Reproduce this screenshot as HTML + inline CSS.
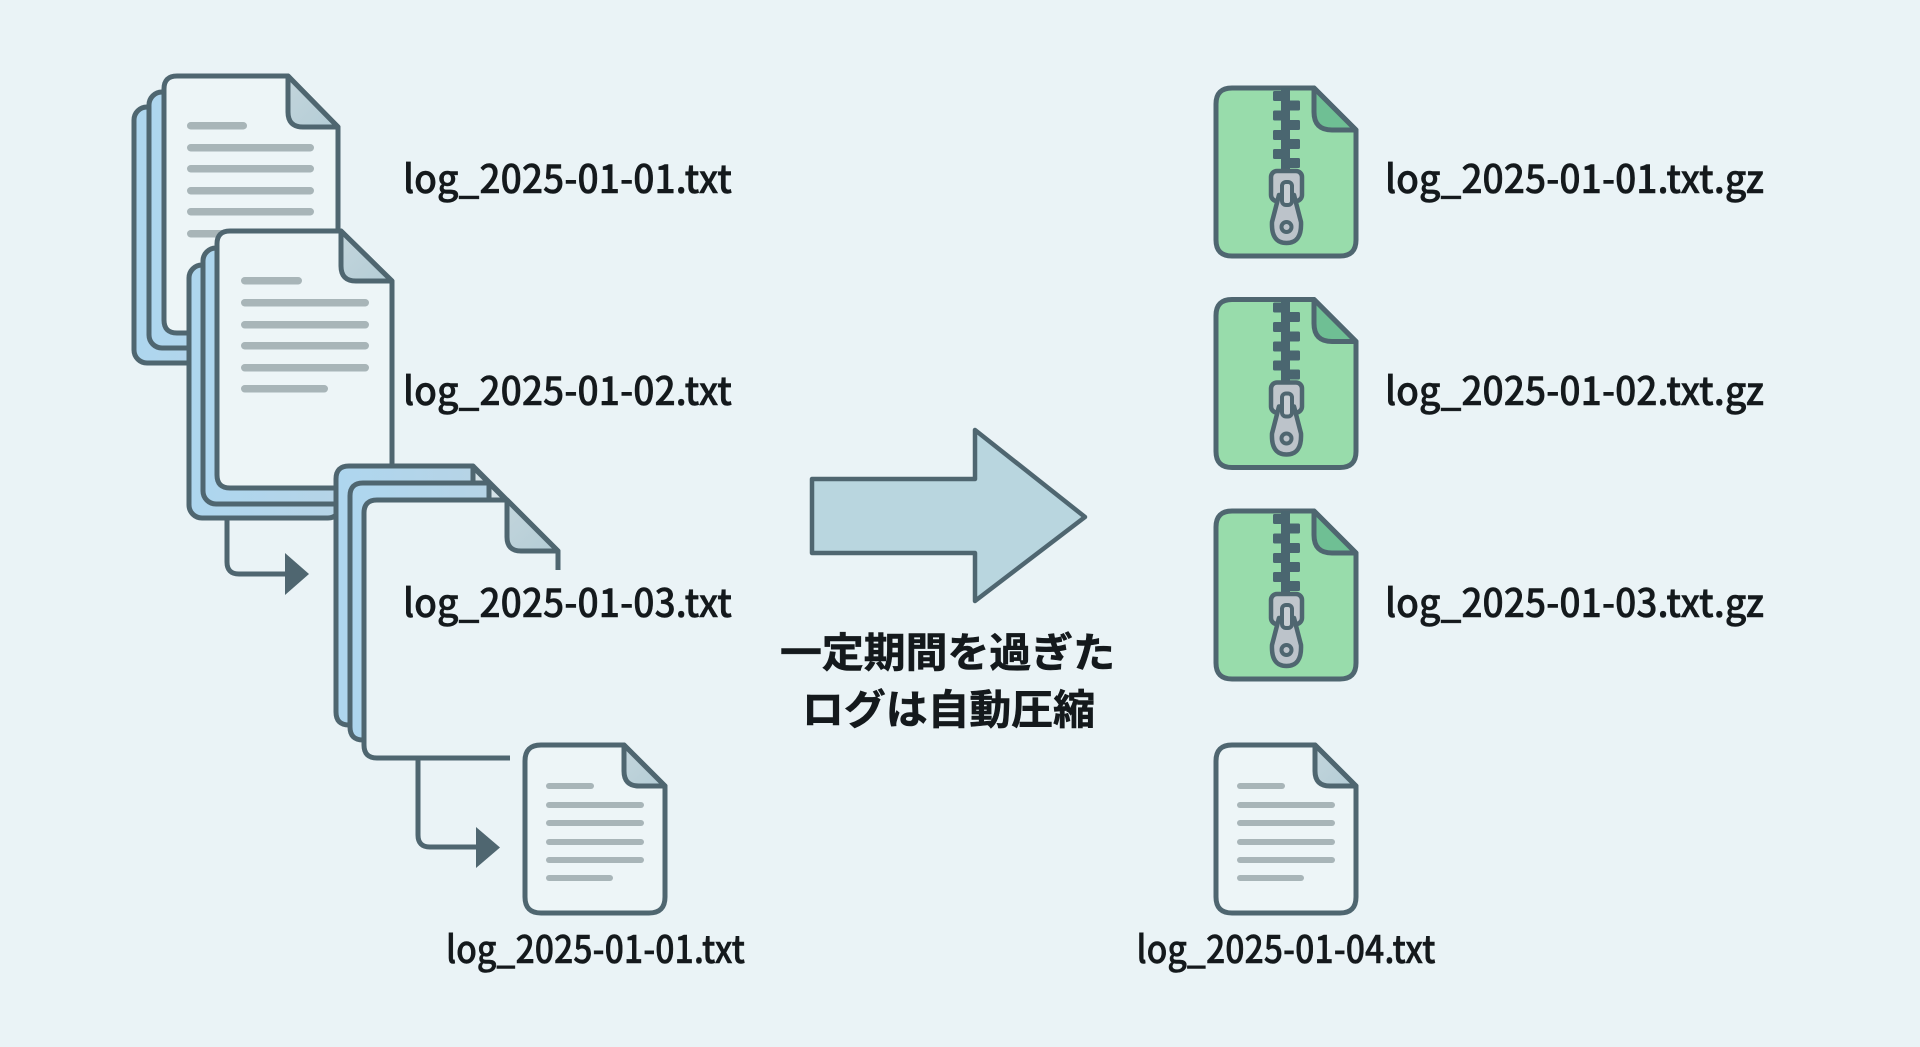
<!DOCTYPE html>
<html lang="ja"><head><meta charset="utf-8"><title>ログ自動圧縮</title>
<style>
html,body{margin:0;padding:0;background:#eaf3f6;width:1920px;height:1047px;overflow:hidden}
svg{display:block}
.lb{font-family:"Noto Sans CJK JP","Liberation Sans",sans-serif;font-weight:500;fill:#14191c;stroke:#14191c;stroke-width:.5}
.jp{font-family:"Liberation Sans","Noto Sans CJK JP",sans-serif;font-weight:700;fill:#14191c;stroke:#14191c;stroke-width:.6;font-size:41px}
</style></head><body>
<svg width="1920" height="1047" viewBox="0 0 1920 1047" xmlns="http://www.w3.org/2000/svg">
<defs>
<linearGradient id="blue" x1="0" y1="0" x2="1" y2="0"><stop offset="0" stop-color="#aed6ef"/><stop offset="1" stop-color="#b6d4e6"/></linearGradient>
<linearGradient id="fold" x1="0" y1="0" x2="1" y2="1"><stop offset="0" stop-color="#c3d5dc"/><stop offset="1" stop-color="#b4cdd6"/></linearGradient>
<g id="zip">
<path d="M1216 104Q1216 88 1232 88H1314L1356 130V240Q1356 256 1340 256H1232Q1216 256 1216 240Z" fill="#98dcab" stroke="#4f6670" stroke-width="5" stroke-linejoin="round"/>
<path d="M1314 88V112Q1314 130 1332 130H1356Z" fill="#6fbf94" stroke="#4f6670" stroke-width="5" stroke-linejoin="round"/>
<rect x="1281" y="88" width="9" height="84" fill="#4a6670"/>
<g fill="#4a6670">
<rect x="1273" y="91" width="15" height="10" rx="1.5"/><rect x="1273" y="110.500" width="15" height="10" rx="1.5"/><rect x="1273" y="130" width="15" height="10" rx="1.5"/><rect x="1273" y="149" width="15" height="10" rx="1.5"/>
<rect x="1285" y="100.500" width="15" height="10" rx="1.5"/><rect x="1285" y="120" width="15" height="10" rx="1.5"/><rect x="1285" y="139" width="15" height="10" rx="1.5"/><rect x="1285" y="158" width="15" height="10" rx="1.5"/>
</g>
<rect x="1271" y="171" width="31" height="30" rx="6" fill="#c0c6cc" stroke="#4f6670" stroke-width="4.500"/>
<path d="M1279 195L1272 222Q1271 243 1286.500 243Q1302 243 1301 222L1294 195Z" fill="#bcc3ca" stroke="#4f6670" stroke-width="4.500" stroke-linejoin="round"/>
<rect x="1282" y="182" width="10" height="23" rx="4" fill="#c8ced3" stroke="#4f6670" stroke-width="4"/>
<circle cx="1286.500" cy="227" r="5" fill="#bcc3ca" stroke="#4f6670" stroke-width="4"/>
</g>
<g id="small">
<path d="M541 745H624L665 786V897Q665 913 649 913H541Q525 913 525 897V761Q525 745 541 745Z" fill="#edf5f7" stroke="#4f6670" stroke-width="5" stroke-linejoin="round"/>
<path d="M624 745V771Q624 786 639 786H665Z" fill="url(#fold)" stroke="#4f6670" stroke-width="5" stroke-linejoin="round"/>
<g fill="#a8b5b8">
<rect x="546" y="783" width="48" height="6" rx="3"/><rect x="546" y="802" width="98" height="6" rx="3"/><rect x="546" y="820" width="98" height="6" rx="3"/><rect x="546" y="839" width="98" height="6" rx="3"/><rect x="546" y="857" width="98" height="6" rx="3"/><rect x="546" y="875" width="67" height="6" rx="3"/>
</g>
</g>
</defs>
<rect width="1920" height="1047" fill="#eaf3f6"/>

<!-- stack 1 -->
<g stroke="#4f6670" stroke-width="5" stroke-linejoin="round">
<rect x="134" y="107" width="130" height="256" rx="13" fill="url(#blue)"/>
<rect x="149" y="92" width="130" height="256" rx="13" fill="url(#blue)"/>
<path d="M177 76H288L338 127V320Q338 333 325 333H177Q164 333 164 320V89Q164 76 177 76Z" fill="#edf5f7"/>
<path d="M288 76V112Q288 127 303 127H338Z" fill="url(#fold)"/>
</g>
<g fill="#a8b5b8">
<rect x="187" y="122" width="60" height="7.500" rx="3.700"/><rect x="187" y="144" width="127" height="7.500" rx="3.700"/><rect x="187" y="165" width="127" height="7.500" rx="3.700"/><rect x="187" y="187" width="127" height="7.500" rx="3.700"/><rect x="187" y="208" width="127" height="7.500" rx="3.700"/><rect x="187" y="230" width="60" height="7.500" rx="3.700"/>
</g>

<!-- stack 2 -->
<g stroke="#4f6670" stroke-width="5" stroke-linejoin="round">
<path d="M227 518V562Q227 574 239 574H290" fill="none"/>
<rect x="189" y="265" width="152" height="253" rx="13" fill="url(#blue)"/>
<rect x="203" y="248" width="150" height="256" rx="13" fill="url(#blue)"/>
<path d="M230 231H341L392 281V475Q392 488 379 488H230Q217 488 217 475V244Q217 231 230 231Z" fill="#edf5f7"/>
<path d="M341 231V266Q341 281 356 281H392Z" fill="url(#fold)"/>
</g>
<path d="M285 553L309 574L285 595Z" fill="#4f6670"/>
<g fill="#a8b5b8">
<rect x="241" y="277" width="61" height="7.500" rx="3.700"/><rect x="241" y="299" width="128" height="7.500" rx="3.700"/><rect x="241" y="321" width="128" height="7.500" rx="3.700"/><rect x="241" y="342" width="128" height="7.500" rx="3.700"/><rect x="241" y="364" width="128" height="7.500" rx="3.700"/><rect x="241" y="385" width="87" height="7.500" rx="3.700"/>
</g>

<!-- stack 3 -->
<g stroke="#4f6670" stroke-width="5" stroke-linejoin="round">
<path d="M349 466H473V725H349Q336 725 336 712V479Q336 466 349 466Z" fill="url(#blue)"/>
<path d="M473 466L558 551V570" fill="none"/>
<path d="M473 467V483H489Z" fill="#d5e3e8"/>
<path d="M363 483H489V740H363Q350 740 350 727V496Q350 483 363 483Z" fill="url(#blue)"/>
<path d="M489 483V500H506Z" fill="#d5e3e8"/>
<path d="M507 500H377Q364 500 364 513V745Q364 758 377 758H510V640H558V551Z" fill="#eaf3f6" stroke="none"/>
<path d="M510 758H377Q364 758 364 745V513Q364 500 377 500H507" fill="none"/>
<path d="M507 500V537Q507 551 521 551H558Z" fill="url(#fold)"/>
<path d="M558 551V570" fill="none"/>
<path d="M418 758V835Q418 847 430 847H480" fill="none"/>
</g>
<path d="M476 827L500 847.500L476 868Z" fill="#4f6670"/>

<use href="#small"/>
<use href="#small" x="691"/>

<!-- big arrow -->
<path d="M812 479H975V430L1085 517L975 601V553H812Z" fill="#b9d6df" stroke="#4f6670" stroke-width="4.500" stroke-linejoin="round"/>

<use href="#zip"/>
<use href="#zip" y="211.500"/>
<use href="#zip" y="423"/>

<!-- labels -->
<g class="lb" font-size="39">
<text x="403" y="193" textLength="329" lengthAdjust="spacingAndGlyphs">log_2025-01-01.txt</text>
<text x="403" y="405" textLength="329" lengthAdjust="spacingAndGlyphs">log_2025-01-02.txt</text>
<text x="403" y="617" textLength="329" lengthAdjust="spacingAndGlyphs">log_2025-01-03.txt</text>
<text x="1385" y="193" textLength="379" lengthAdjust="spacingAndGlyphs">log_2025-01-01.txt.gz</text>
<text x="1385" y="405" textLength="379" lengthAdjust="spacingAndGlyphs">log_2025-01-02.txt.gz</text>
<text x="1385" y="617" textLength="379" lengthAdjust="spacingAndGlyphs">log_2025-01-03.txt.gz</text>
</g>
<g class="lb" font-size="38">
<text x="446" y="963" textLength="299" lengthAdjust="spacingAndGlyphs">log_2025-01-01.txt</text>
<text x="1136.500" y="963" textLength="299" lengthAdjust="spacingAndGlyphs">log_2025-01-04.txt</text>
</g>
<text class="jp" x="780" y="667" textLength="335" lengthAdjust="spacingAndGlyphs">一定期間を過ぎた</text>
<text class="jp" x="802" y="724" textLength="293" lengthAdjust="spacingAndGlyphs">ログは自動圧縮</text>
</svg>
</body></html>
